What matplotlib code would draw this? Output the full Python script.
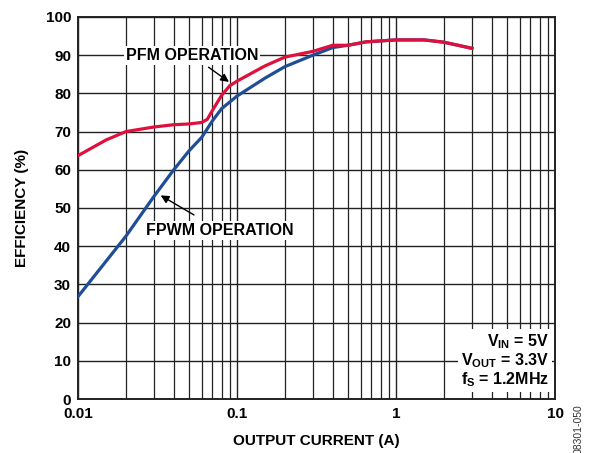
import matplotlib
matplotlib.use("Agg")
import matplotlib.pyplot as plt
import numpy as np

plt.rcParams['font.family'] = ['Liberation Sans', 'DejaVu Sans']
plt.rcParams['font.weight'] = 'bold'
plt.rcParams['mathtext.fontset'] = 'custom'
plt.rcParams['mathtext.rm'] = 'Liberation Sans:bold'
plt.rcParams['mathtext.it'] = 'Liberation Sans:bold'
plt.rcParams['mathtext.bf'] = 'Liberation Sans:bold'
plt.rcParams['mathtext.default'] = 'rm'

# PFM operation (red)
pfm_current = [0.01, 0.015, 0.02, 0.03, 0.04, 0.05, 0.06, 0.065, 0.07, 0.08, 0.09, 0.1,
               0.15, 0.2, 0.3, 0.4, 0.5, 0.65, 1.0, 1.5, 2.0, 3.0]
pfm_eff = [63.7, 67.8, 70.0, 71.2, 71.8, 72.0, 72.4, 73.2, 75.5, 79.5, 82.0, 83.2,
           87.2, 89.5, 91.0, 92.6, 92.6, 93.5, 94.0, 94.0, 93.4, 91.8]

# FPWM operation (blue)
fpwm_current = [0.01, 0.02, 0.03, 0.04, 0.05, 0.06, 0.07, 0.08, 0.1, 0.15, 0.2, 0.3, 0.4,
                0.5, 0.65, 1.0, 1.5, 2.0, 3.0]
fpwm_eff = [26.8, 42.6, 53.0, 60.0, 65.0, 68.5, 72.8, 76.0, 79.3, 84.0, 87.0, 90.0, 92.0,
            92.6, 93.5, 94.0, 94.0, 93.4, 91.8]

fig = plt.figure(figsize=(5.89, 4.53), dpi=100)
ax = fig.add_axes([0.1324, 0.1192, 0.81, 0.8433])

ax.plot(fpwm_current, fpwm_eff, color='#1f4e96', lw=2.3, zorder=3)
ax.plot(pfm_current, pfm_eff, color='#e0103c', lw=2.3, zorder=4)

ax.set_xscale('log')
ax.set_xlim(0.01, 10)
ax.set_ylim(0, 100)
ax.set_yticks(np.arange(0, 101, 10))
ax.set_xticks([0.01, 0.1, 1, 10])
ax.set_xticklabels(['0.01', '0.1', '1', '10'])
ax.xaxis.set_minor_formatter(matplotlib.ticker.NullFormatter())
ax.tick_params(which='both', length=0, labelsize=11)
ax.tick_params(axis='x', pad=6)
ax.tick_params(axis='y', pad=5)
ax.grid(True, which='major', color='#222222', lw=1.0)
ax.grid(True, which='minor', axis='x', color='#222222', lw=0.9)
for s in ax.spines.values():
    s.set_linewidth(1.4)
    s.set_color('#222222')

ax.set_xlabel('OUTPUT CURRENT (A)', fontsize=11, fontweight='bold', labelpad=9)
ax.set_ylabel('EFFICIENCY (%)', fontsize=11, fontweight='bold', labelpad=12)

ax.annotate('PFM OPERATION', xy=(0.089, 83), xytext=(0.052, 90), fontsize=11.5,
            fontweight='bold', ha='center', va='center', zorder=5,
            bbox=dict(facecolor='white', edgecolor='none', pad=1.5),
            arrowprops=dict(arrowstyle='-|>', color='black', lw=1.0, mutation_scale=12,
                            shrinkA=3, shrinkB=0))
ax.annotate('FPWM OPERATION', xy=(0.0331, 53.3), xytext=(0.078, 44.2), fontsize=11.5,
            fontweight='bold', ha='center', va='center', zorder=5,
            bbox=dict(facecolor='white', edgecolor='none', pad=1.5),
            arrowprops=dict(arrowstyle='-|>', color='black', lw=1.0, mutation_scale=12,
                            shrinkA=8, shrinkB=0))

ax.text(0.988, 0.025, '$V_{IN}$ = 5V\n$V_{OUT}$ = 3.3V\n$f_{S}$ = 1.2MHz',
        transform=ax.transAxes, ha='right', va='bottom', fontsize=11.5,
        linespacing=1.05, zorder=5,
        bbox=dict(facecolor='white', edgecolor='none', pad=2))

fig.text(0.983, 0.108, '08301-050', rotation=90, fontsize=7.5, fontweight='normal',
         color='#333333', ha='center', va='top')

fig.savefig('out.png', dpi=100)
